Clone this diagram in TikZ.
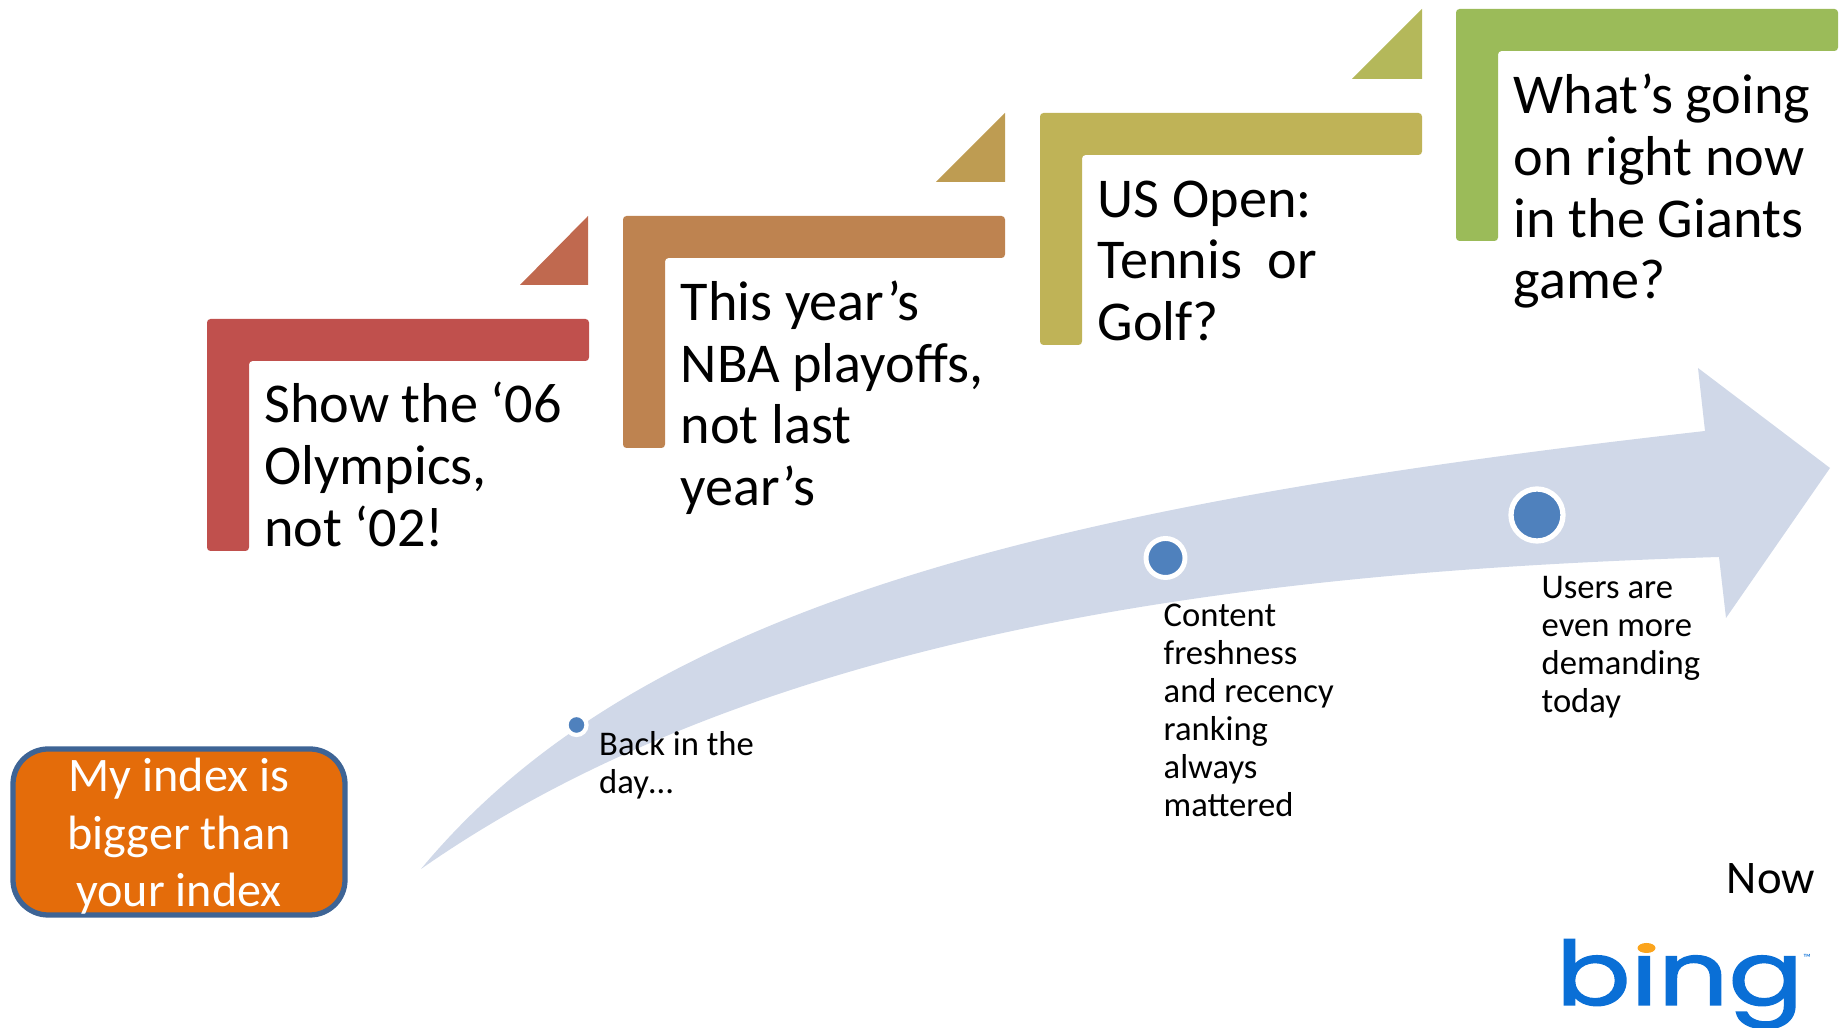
\documentclass[tikz,border=0pt]{standalone}
\usepackage{fontspec}
\setmainfont{Carlito}
\newfontfamily\logofont[FakeBold=1.5]{Poppins}
\usepackage{tikz}
\usetikzlibrary{shapes}

\definecolor{framea}{HTML}{C0504D}
\definecolor{frameb}{HTML}{BE8350}
\definecolor{framec}{HTML}{BFB357}
\definecolor{framed}{HTML}{9BBB59}
\definecolor{corna}{HTML}{C0694F}
\definecolor{cornb}{HTML}{BE9C52}
\definecolor{cornc}{HTML}{B4B85A}
\definecolor{sweep}{HTML}{D0D8E8}
\definecolor{dotblue}{HTML}{4F81BD}
\definecolor{badge}{HTML}{E46C0A}
\definecolor{badgeline}{HTML}{3E6495}
\definecolor{logoblue}{HTML}{0A6FD6}
\definecolor{logodot}{HTML}{FBA41C}

\tikzset{
	bigtext/.style={anchor=north west,inner sep=0,align=left,font=\fontsize{16}{17.55}\selectfont},
	smalltext/.style={anchor=north west,inner sep=0,align=left,font=\fontsize{9.85}{10.8}\selectfont},
	dot/.style={circle,fill=dotblue,draw=white,inner sep=0}
}

\begin{document}
\begin{tikzpicture}

		\useasboundingbox (0,0) rectangle (18.44,10.28);

		\fill[sweep] (4.21,1.59) .. controls (6.40,4.23) and (10.50,5.23) .. (17.05,5.97)
			-- (16.98,6.60) -- (18.30,5.60) -- (17.26,4.10) -- (17.19,4.71)
			.. controls (13.00,4.58) and (7.80,4.10) .. (4.21,1.59) -- cycle;

		\fill[framea,rounded corners=1pt] (2.07,7.09) -- ++(3.82,0) -- ++(0,-.42) -- ++(-3.40,0) -- ++(0,-1.90) -- ++(-.42,0) -- cycle;
		\fill[frameb,rounded corners=1pt] (6.23,8.12) -- ++(3.82,0) -- ++(0,-.42) -- ++(-3.40,0) -- ++(0,-1.90) -- ++(-.42,0) -- cycle;
		\fill[framec,rounded corners=1pt] (10.40,9.15) -- ++(3.82,0) -- ++(0,-.42) -- ++(-3.40,0) -- ++(0,-1.90) -- ++(-.42,0) -- cycle;
		\fill[framed,rounded corners=1pt] (14.56,10.19) -- ++(3.82,0) -- ++(0,-.42) -- ++(-3.40,0) -- ++(0,-1.90) -- ++(-.42,0) -- cycle;

		\fill[corna] (5.20,7.43) -- (5.88,8.12) -- (5.88,7.43) -- cycle;
		\fill[cornb] (9.36,8.46) -- (10.05,9.15) -- (10.05,8.46) -- cycle;
		\fill[cornc] (13.52,9.49) -- (14.22,10.19) -- (14.22,9.49) -- cycle;

		\node[bigtext] (olympics) at (2.635,6.465) {Show the ‘06\\Olympics,\\not ‘02!};
		\node[bigtext] (playoffs) at (6.80,7.48) {This year’s\\NBA playoffs,\\not last\\year’s};
		\node[bigtext] (usopen) at (10.97,8.48) {US Open:\\Tennis\ \ or\\Golf?};
		\node[bigtext] (giants) at (15.13,9.545) {What’s going\\on right now\\in the Giants\\game?};

		\node[dot,line width=1.2pt,minimum size=.20cm] (dayone) at (5.765,3.03) {};
		\node[dot,line width=1.4pt,minimum size=.39cm] (daytwo) at (11.655,4.70) {};
		\node[dot,line width=1.5pt,minimum size=.52cm] (daythree) at (15.37,5.13) {};

		\node[smalltext] (backday) at (5.985,2.975) {Back in the\\day…};
		\node[smalltext] (fresh) at (11.63,4.245) {Content\\freshness\\and recency\\ranking\\always\\mattered};
		\node[smalltext] (users) at (15.41,4.525) {Users are\\even more\\demanding\\today};

		\node[rectangle,draw=badgeline,fill=badge,line width=1.5pt,rounded corners=10pt,minimum width=3.32cm,minimum height=1.66cm,inner sep=0] (badgebox) at (1.79,1.96) {};
		\node[inner sep=0,align=center,text=white,font=\fontsize{13.7}{16.4}\selectfont] (index) at (1.79,1.915) {My index is\\bigger than\\your index};

		\node[inner sep=0,font=\fontsize{13.3}{16}\selectfont] (now) at (17.71,1.495) {Now};

		\node[inner sep=0,anchor=base west,text=logoblue,xscale=1.21,yscale=.97,font=\logofont\fontsize{26}{26}\selectfont] (bing) at (15.55,.23) {bing};
		\fill[white] (16.30,.73) rectangle (16.62,1.05);
		\fill[logodot] (16.465,.80) ellipse (.09 and .05);
		\node[inner sep=0,text=logoblue,font=\fontsize{3}{3}\selectfont] (trademark) at (18.07,.70) {™};

\end{tikzpicture}
\end{document}
